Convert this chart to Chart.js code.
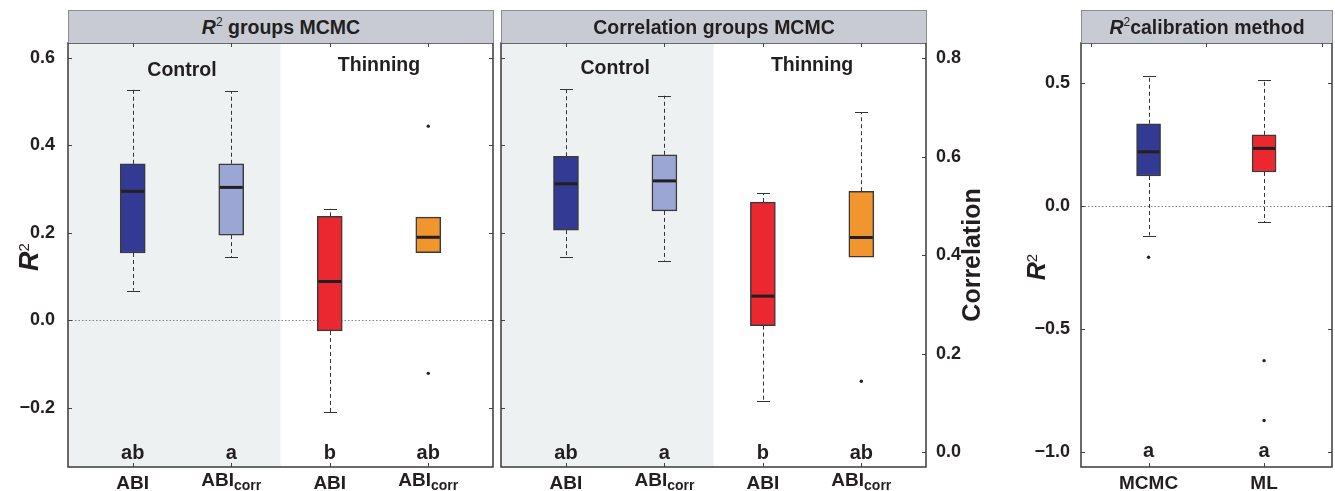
<!DOCTYPE html>
<html>
<head>
<meta charset="utf-8">
<title>R2 and correlation box plots</title>
<script src="https://cdn.jsdelivr.net/npm/chart.js@4.4.1/dist/chart.umd.min.js"></script>
<style>
  body { margin: 0; background: #fff; font-family: "Liberation Sans", Arial, sans-serif; }
  #wrap { position: relative; width: 1335px; height: 491px; overflow: hidden; }
  canvas { position: absolute; top: 0; }
  .strip {
    position: absolute; top: 10px; height: 33px; box-sizing: border-box;
    background: #c8cbd3; border: 1px solid #8e8e8e; border-bottom: none;
    color: #231f20; font-weight: bold; font-size: 19.5px; text-align: center;
    line-height: 32px; white-space: nowrap;
  }
  .strip i { font-style: italic; }
  .strip sup { font-size: 12px; font-weight: normal; vertical-align: 8px; line-height: 0; }
</style>
</head>
<body>
<div id="wrap">
  <canvas id="c1" width="497" height="491" style="left:0"></canvas>
  <canvas id="c2" width="493" height="491" style="left:497px"></canvas>
  <canvas id="c3" width="345" height="491" style="left:990px"></canvas>
  <div class="strip" style="left:68px;width:426px"><i>R</i><sup>2</sup> groups MCMC</div>
  <div class="strip" style="left:501px;width:426px">Correlation groups MCMC</div>
  <div class="strip" style="left:1081px;width:252px"><i>R</i><sup>2</sup>calibration method</div>
</div>
<script>
// groups (Control: ABI, ABIcorr / Thinning: ABI, ABIcorr)
const groupPos = [1, 2, 3, 4];
const groupMain = ["ABI", "ABI", "ABI", "ABI"];
const groupSub = ["", "corr", "", "corr"];
const groupColors = ["#323a94", "#9ba6d5", "#eb282f", "#f1962f"];
const groupNames = ["Control", "Thinning"];
const groupNamePos = [1.5, 3.5];

// R2 groups MCMC
const r2Lo = [0.068, 0.144, -0.209, 0.155];
const r2Q1 = [0.154, 0.195, -0.024, 0.155];
const r2Med = [0.295, 0.304, 0.089, 0.190];
const r2Q3 = [0.358, 0.358, 0.238, 0.236];
const r2Hi = [0.527, 0.524, 0.255, 0.236];
const r2OutX = [4, 4];
const r2OutY = [0.444, -0.121];
const r2Letters = ["ab", "a", "b", "ab"];
const r2Ticks = [-0.2, 0, 0.2, 0.4, 0.6];

// Correlation groups MCMC
const corLo = [0.396, 0.389, 0.105, 0.396];
const corQ1 = [0.451, 0.490, 0.257, 0.396];
const corMed = [0.545, 0.551, 0.317, 0.436];
const corQ3 = [0.601, 0.604, 0.508, 0.530];
const corHi = [0.738, 0.724, 0.526, 0.690];
const corOutX = [4];
const corOutY = [0.144];
const corLetters = ["ab", "a", "b", "ab"];
const corTicks = [0, 0.2, 0.4, 0.6, 0.8];

// R2 calibration method
const methodPos = [1, 2];
const methodMain = ["MCMC", "ML"];
const methodSub = ["", ""];
const methodColors = ["#323a94", "#eb282f"];
const mLo = [-0.120, -0.067];
const mQ1 = [0.122, 0.138];
const mMed = [0.220, 0.234];
const mQ3 = [0.334, 0.289];
const mHi = [0.526, 0.510];
const mOutX = [1, 2, 2];
const mOutY = [-0.208, -0.628, -0.871];
const mLetters = ["a", "a"];
const mTicks = [-1, -0.5, 0, 0.5];
const mTopTicks = [0.5, 1.5, 2.5];

const FONT = '"Liberation Sans", Arial, sans-serif';
const INK = "#231f20";

function fmt(v) {
  return (v < 0 ? "\u2212" : "") + Math.abs(v).toFixed(1);
}

function xLabel(ctx, x, base, main, sub) {
  ctx.font = "bold 19px " + FONT;
  const w1 = ctx.measureText(main).width;
  let w2 = 0;
  if (sub) {
    ctx.font = "bold 14px " + FONT;
    w2 = ctx.measureText(sub).width;
  }
  const x0 = x - (w1 + w2) / 2;
  ctx.textAlign = "left";
  ctx.textBaseline = "alphabetic";
  ctx.font = "bold 19px " + FONT;
  ctx.fillText(main, x0, sub ? base - 3 : base);
  if (sub) {
    ctx.font = "bold 14px " + FONT;
    ctx.fillText(sub, x0 + w1, base + 1);
  }
}

// rotated axis title, parts = [[text, font, raise], ...]
function yTitle(ctx, bx, cy, parts) {
  ctx.save();
  ctx.translate(bx, cy);
  ctx.rotate(-Math.PI / 2);
  let total = 0;
  parts.forEach(p => { ctx.font = p[1]; total += ctx.measureText(p[0]).width; });
  let x = -total / 2;
  ctx.textAlign = "left";
  ctx.textBaseline = "alphabetic";
  parts.forEach(p => {
    ctx.font = p[1];
    ctx.fillText(p[0], x, -p[2]);
    x += ctx.measureText(p[0]).width;
  });
  ctx.restore();
}

function boxPanel(cfg) {
  return {
    id: "boxPanel",
    beforeDatasetsDraw(chart) {
      const { ctx, chartArea: a } = chart;
      const xs = chart.scales.x, ys = chart.scales.y;
      ctx.save();
      if (cfg.shadeTo) {
        const sx = xs.getPixelForValue(cfg.shadeTo);
        ctx.fillStyle = "#edf1f2";
        ctx.fillRect(a.left, a.top, sx - a.left, a.bottom - a.top);
      }
      if (cfg.zeroLine) {
        const zy = Math.round(ys.getPixelForValue(0)) + 0.5;
        ctx.strokeStyle = "#808080";
        ctx.lineWidth = 1;
        ctx.setLineDash([1.5, 2]);
        ctx.beginPath();
        ctx.moveTo(a.left, zy);
        ctx.lineTo(a.right, zy);
        ctx.stroke();
      }
      // whiskers
      ctx.strokeStyle = "#333";
      ctx.lineWidth = 1;
      cfg.pos.forEach((p, i) => {
        const px = Math.round(xs.getPixelForValue(p)) + 0.5;
        [[cfg.q3[i], cfg.hi[i]], [cfg.q1[i], cfg.lo[i]]].forEach(([from, to]) => {
          if (Math.abs(from - to) < 1e-6) return;
          const y0 = ys.getPixelForValue(from), y1 = ys.getPixelForValue(to);
          ctx.setLineDash([4, 3]);
          ctx.beginPath();
          ctx.moveTo(px, y0);
          ctx.lineTo(px, y1);
          ctx.stroke();
          ctx.setLineDash([]);
          ctx.beginPath();
          ctx.moveTo(px - 6.5, Math.round(y1) + 0.5);
          ctx.lineTo(px + 6.5, Math.round(y1) + 0.5);
          ctx.stroke();
        });
      });
      ctx.restore();
    },
    afterDatasetsDraw(chart) {
      const { ctx } = chart;
      const xs = chart.scales.x, ys = chart.scales.y;
      ctx.save();
      ctx.strokeStyle = INK;
      ctx.lineWidth = 3;
      cfg.pos.forEach((p, i) => {
        const px = xs.getPixelForValue(p);
        const py = ys.getPixelForValue(cfg.med[i]);
        ctx.beginPath();
        ctx.moveTo(px - cfg.boxWidth / 2 + 1, py);
        ctx.lineTo(px + cfg.boxWidth / 2 - 1, py);
        ctx.stroke();
      });
      ctx.restore();
    },
    afterDraw(chart) {
      const { ctx, chartArea: a } = chart;
      const xs = chart.scales.x, ys = chart.scales.y;
      const yl = chart.scales[cfg.leftScale];
      ctx.save();
      // inward tick marks
      ctx.strokeStyle = "#444";
      ctx.lineWidth = 1;
      ctx.beginPath();
      cfg.leftTicks.forEach(v => {
        const py = Math.round(yl.getPixelForValue(v)) + 0.5;
        ctx.moveTo(a.left, py); ctx.lineTo(a.left + 4, py);
      });
      cfg.ticks.forEach(v => {
        const py = Math.round(ys.getPixelForValue(v)) + 0.5;
        ctx.moveTo(a.right, py); ctx.lineTo(a.right - 4, py);
      });
      cfg.topTicks.forEach(v => {
        const px = Math.round(xs.getPixelForValue(v)) + 0.5;
        ctx.moveTo(px, a.top); ctx.lineTo(px, a.top + 4);
      });
      cfg.pos.forEach(v => {
        const px = Math.round(xs.getPixelForValue(v)) + 0.5;
        ctx.moveTo(px, a.bottom); ctx.lineTo(px, a.bottom - 4);
      });
      ctx.stroke();
      // frame
      ctx.strokeStyle = "#3a3a3a";
      ctx.lineWidth = 1.5;
      ctx.strokeRect(a.left, a.top, a.right - a.left, a.bottom - a.top);

      ctx.fillStyle = INK;
      // group names
      if (cfg.names) {
        ctx.font = "bold 19.5px " + FONT;
        ctx.textAlign = "center";
        ctx.textBaseline = "middle";
        cfg.names.forEach((t, i) => {
          ctx.fillText(t, xs.getPixelForValue(cfg.namePos[i]), a.top + cfg.nameDy[i]);
        });
      }
      // significance letters
      ctx.font = "bold 20px " + FONT;
      ctx.textAlign = "center";
      ctx.textBaseline = "alphabetic";
      cfg.letters.forEach((t, i) => {
        ctx.fillText(t, xs.getPixelForValue(cfg.pos[i]), a.bottom - cfg.letterDy);
      });
      // category labels
      cfg.pos.forEach((p, i) => {
        xLabel(ctx, xs.getPixelForValue(p), a.bottom + 22, cfg.main[i], cfg.sub[i]);
      });
      yTitle(ctx, cfg.title.x, cfg.title.y, cfg.title.parts);
      ctx.restore();
    }
  };
}

function makeChart(id, cfg) {
  const scales = {
    x: { type: "linear", min: cfg.xMin, max: cfg.xMax, offset: false, display: false },
    y: {
      type: "linear", position: cfg.yPos, min: cfg.yMin, max: cfg.yMax,
      afterBuildTicks: s => { s.ticks = cfg.ticks.map(v => ({ value: v })); },
      afterFit: s => { s.width = cfg.yWidth; },
      grid: { display: false },
      border: { display: false },
      ticks: { font: { family: FONT, size: 18, weight: "bold" }, color: INK, padding: cfg.tickPad, callback: fmt }
    }
  };
  if (cfg.leftScale === "yl") {
    scales.yl = { type: "linear", position: "left", min: cfg.ylMin, max: cfg.ylMax, display: false };
  }
  return new Chart(document.getElementById(id), {
    type: "bar",
    data: {
      datasets: [
        {
          type: "scatter",
          data: cfg.outX.map((x, i) => ({ x: x, y: cfg.outY[i] })),
          pointRadius: 1.7,
          pointBackgroundColor: "#222",
          pointBorderWidth: 0,
          yAxisID: "y"
        },
        {
          data: cfg.pos.map((x, i) => ({ x: x, y: [cfg.q1[i], cfg.q3[i]] })),
          backgroundColor: cfg.colors,
          borderColor: "#3a3a3a",
          borderWidth: 1.5,
          borderSkipped: false,
          barThickness: cfg.boxWidth,
          yAxisID: "y"
        }
      ]
    },
    options: {
      responsive: false,
      animation: false,
      devicePixelRatio: 1,
      layout: { autoPadding: false, padding: cfg.padding },
      plugins: { legend: { display: false }, tooltip: { enabled: false } },
      scales: scales
    },
    plugins: [boxPanel(cfg)]
  });
}

makeChart("c1", {
  pos: groupPos, main: groupMain, sub: groupSub, colors: groupColors,
  lo: r2Lo, q1: r2Q1, med: r2Med, q3: r2Q3, hi: r2Hi, outX: r2OutX, outY: r2OutY,
  letters: r2Letters, ticks: r2Ticks, leftScale: "y", leftTicks: r2Ticks, topTicks: groupPos,
  names: groupNames, namePos: groupNamePos, nameDy: [28, 23],
  xMin: 0.343, xMax: 4.657, yMin: -0.335, yMax: 0.634,
  yPos: "left", yWidth: 68, tickPad: 5, boxWidth: 25, letterDy: 8,
  padding: { left: 0, top: 43, right: 4, bottom: 24 },
  shadeTo: 2.5, zeroLine: true,
  title: { x: 38, y: 257, parts: [["R", "italic bold 27px " + FONT, 0], ["2", "15px " + FONT, 9]] }
});

makeChart("c2", {
  pos: groupPos, main: groupMain, sub: groupSub, colors: groupColors,
  lo: corLo, q1: corQ1, med: corMed, q3: corQ3, hi: corHi, outX: corOutX, outY: corOutY,
  letters: corLetters, ticks: corTicks, leftScale: "yl", leftTicks: r2Ticks, ylMin: -0.335, ylMax: 0.634,
  topTicks: groupPos,
  names: groupNames, namePos: groupNamePos, nameDy: [26, 23],
  xMin: 0.34, xMax: 4.657, yMin: -0.030, yMax: 0.831,
  yPos: "right", yWidth: 64, tickPad: 2, boxWidth: 25, letterDy: 8,
  padding: { left: 4, top: 43, right: 0, bottom: 24 },
  shadeTo: 2.5, zeroLine: false,
  title: { x: 483, y: 255, parts: [["Correlation", "bold 25px " + FONT, 0]] }
});

makeChart("c3", {
  pos: methodPos, main: methodMain, sub: methodSub, colors: methodColors,
  lo: mLo, q1: mQ1, med: mMed, q3: mQ3, hi: mHi, outX: mOutX, outY: mOutY,
  letters: mLetters, ticks: mTicks, leftScale: "y", leftTicks: mTicks, topTicks: mTopTicks,
  names: null,
  xMin: 0.415, xMax: 2.588, yMin: -1.060, yMax: 0.662,
  yPos: "left", yWidth: 91, tickPad: 3, boxWidth: 24, letterDy: 10,
  padding: { left: 0, top: 43, right: 3, bottom: 24 },
  shadeTo: null, zeroLine: true,
  title: { x: 55, y: 267, parts: [["R", "italic bold 25px " + FONT, 0], ["2", "15px " + FONT, 8]] }
});
</script>
</body>
</html>
